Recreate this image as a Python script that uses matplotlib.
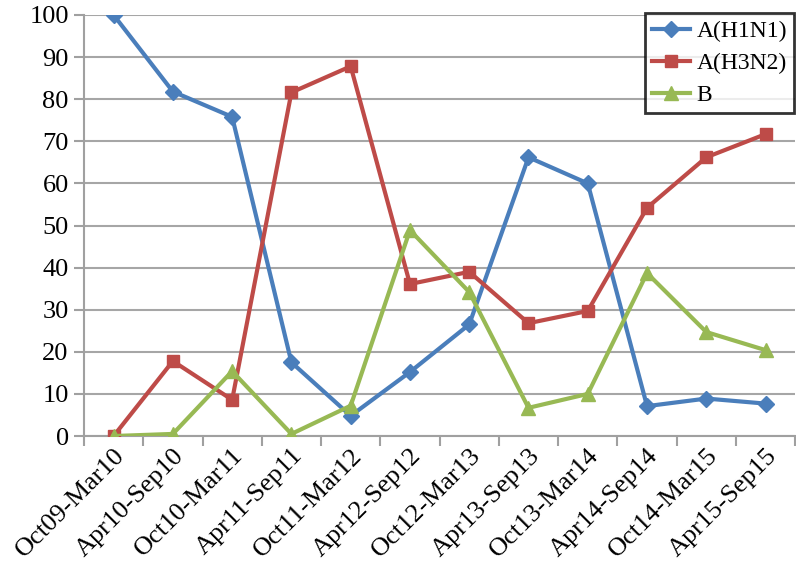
import matplotlib.pyplot as plt
import numpy as np

# Seasons on the x axis
seasons = ["Oct09-Mar10", "Apr10-Sep10", "Oct10-Mar11", "Apr11-Sep11",
           "Oct11-Mar12", "Apr12-Sep12", "Oct12-Mar13", "Apr13-Sep13",
           "Oct13-Mar14", "Apr14-Sep14", "Oct14-Mar15", "Apr15-Sep15"]

# Percentages per subtype
h1n1 = [100, 81.8, 75.8, 17.5, 4.8, 15.2, 26.5, 66.2, 60.0, 7.1, 8.9, 7.7]
h3n2 = [0, 17.8, 8.6, 81.6, 87.8, 36.1, 39.0, 26.8, 29.7, 54.2, 66.2, 71.7]
flu_b = [0, 0.5, 15.4, 0.5, 7.2, 48.9, 34.2, 6.7, 10.0, 38.7, 24.7, 20.4]

plt.rcParams["font.family"] = ["Liberation Serif", "DejaVu Serif"]

fig = plt.figure(figsize=(7.96, 5.76), dpi=100)
ax = fig.add_axes([0.1055, 0.243, 0.8935, 0.731])

x = np.arange(len(seasons))
ax.plot(x, h1n1, color="#4A7EBB", lw=3, marker="D", ms=8, label="A(H1N1)", zorder=3)
ax.plot(x, h3n2, color="#BE4B48", lw=3, marker="s", ms=9, label="A(H3N2)", zorder=3)
ax.plot(x, flu_b, color="#98B954", lw=3, marker="^", ms=10, label="B", zorder=3)

ax.set_xlim(-0.5, len(seasons) - 0.5)
ax.set_ylim(0, 100)
ax.set_yticks(range(0, 101, 10))
ax.tick_params(axis="y", labelsize=19, length=7, width=1.5, color="#A0A0A0", pad=4)
ax.set_xticks(x)
ax.set_xticklabels(seasons, rotation=45, ha="right", rotation_mode="anchor", fontsize=19)
ax.tick_params(axis="x", which="major", length=0, pad=6)
ax.set_xticks(np.arange(-0.5, len(seasons), 1), minor=True)
ax.tick_params(axis="x", which="minor", length=7, width=1.5, color="#A0A0A0")

ax.grid(axis="y", color="#A6A6A6", lw=1.5)
ax.set_axisbelow(True)
for side in ["top", "right"]:
    ax.spines[side].set_visible(False)
for side in ["left", "bottom"]:
    ax.spines[side].set_color("#A0A0A0")
    ax.spines[side].set_linewidth(1.5)

leg = fig.legend(loc="upper right", bbox_to_anchor=(0.998, 0.977), fontsize=17,
                 frameon=True, fancybox=False, handlelength=1.6,
                 borderpad=0.3, labelspacing=0.45, handletextpad=0.3,
                 borderaxespad=0)
leg.get_frame().set_edgecolor("black")
leg.get_frame().set_linewidth(2)

fig.savefig("out.png", dpi=100)
